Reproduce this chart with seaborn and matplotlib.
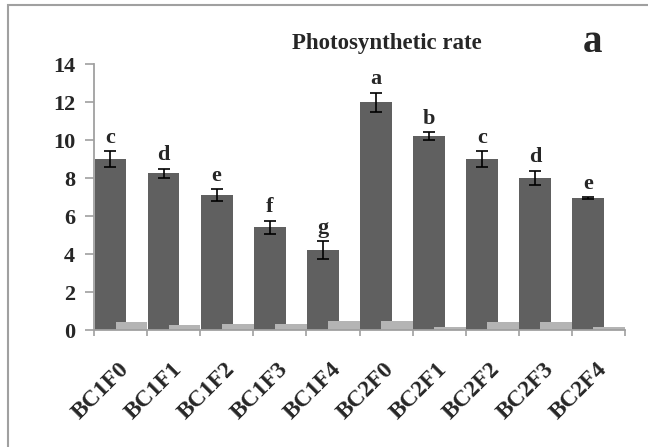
import numpy as np
import pandas as pd
import seaborn as sns
import matplotlib.pyplot as plt
from matplotlib.patches import Rectangle
from matplotlib.transforms import ScaledTranslation

# values
lines = ["BC1F0", "BC1F1", "BC1F2", "BC1F3", "BC1F4",
         "BC2F0", "BC2F1", "BC2F2", "BC2F3", "BC2F4"]
rate = [9.0, 8.25, 7.1, 5.4, 4.2, 12.0, 10.2, 9.0, 8.0, 6.95]
rate_err = [0.42, 0.25, 0.3, 0.34, 0.48, 0.5, 0.2, 0.42, 0.37, 0.03]
second = [0.4, 0.25, 0.33, 0.32, 0.49, 0.49, 0.16, 0.4, 0.4, 0.16]
letters = ["c", "d", "e", "f", "g", "a", "b", "c", "d", "e"]
yticks = [0, 2, 4, 6, 8, 10, 12, 14]

dark = "#606060"
light = "#b4b4b4"
gray = "#a0a0a0"

sns.set_style("white")
plt.rcParams["font.family"] = ["Liberation Serif", "DejaVu Serif"]
plt.rcParams["font.weight"] = "bold"

df = pd.DataFrame({"Line": lines, "Rate": rate, "Other": second})
n = len(lines)

fig = plt.figure(figsize=(6.48, 4.47), dpi=100)
ax = fig.add_axes([94 / 648, 1 - 330 / 447, 531 / 648, 266 / 447])

# dark series, shifted left inside each category
sns.barplot(data=df, x="Line", y="Rate", color=dark, width=0.6,
            saturation=1, errorbar=None, ax=ax, linewidth=0)
for p in ax.patches[:n]:
    p.set_x(p.get_x() - 0.19)

# light series, shifted right and drawn in front
sns.barplot(data=df, x="Line", y="Other", color=light, width=0.6,
            saturation=1, errorbar=None, ax=ax, linewidth=0)
for p in ax.patches[n:]:
    p.set_x(p.get_x() + 0.205)

centers = [p.get_x() + p.get_width() / 2 for p in ax.patches[:n]]
ax.errorbar(centers, rate, yerr=rate_err, fmt="none", ecolor="black",
            elinewidth=1.2, capsize=4, capthick=1.2, zorder=5)

for cx, r, e, l in zip(centers, rate, rate_err, letters):
    ax.annotate(l, (cx, r + e), xytext=(0, 2.5), textcoords="offset points",
                ha="center", va="bottom", fontsize=16, fontweight="bold")

ax.set_xlim(-0.5, n - 0.5)
ax.set_ylim(0, 14)
ax.set_yticks(yticks)
ax.set_xlabel("")
ax.set_ylabel("")

sns.despine(ax=ax)
for s in ["left", "bottom"]:
    ax.spines[s].set_color(gray)
    ax.spines[s].set_linewidth(1.3)

ax.tick_params(axis="y", direction="out", length=6.5, width=1.2, color=gray,
               pad=7, labelsize=16, left=True)
ax.set_xticks(np.arange(n + 1) - 0.5, minor=True)
ax.tick_params(axis="x", which="minor", direction="out", length=4.5,
               width=1.2, color=gray, bottom=True)
ax.tick_params(axis="x", which="major", length=0, pad=26, labelsize=17)

offset = ScaledTranslation(3.5 / 72, 0, fig.dpi_scale_trans)
for lbl in ax.get_xticklabels():
    lbl.set_rotation(45)
    lbl.set_ha("right")
    lbl.set_va("center")
    lbl.set_rotation_mode("anchor")
    lbl.set_fontweight("bold")
    lbl.set_transform(lbl.get_transform() + offset)
for lbl in ax.get_yticklabels():
    lbl.set_fontweight("bold")

fig.text(387 / 648, 1 - 43 / 447, "Photosynthetic rate", ha="center",
         va="center", fontsize=16.5, fontweight="bold")
fig.text(592 / 648, 1 - 43 / 447, "a", ha="center", va="center",
         fontsize=28, fontweight="bold")

# chart frame (only left and top edges are inside the picture)
fig.add_artist(Rectangle((8 / 648, -0.1), 1.2, 1.1 - 5 / 447,
                         transform=fig.transFigure, fill=False,
                         edgecolor=gray, linewidth=1.5))

fig.savefig("out.png", dpi=100)
